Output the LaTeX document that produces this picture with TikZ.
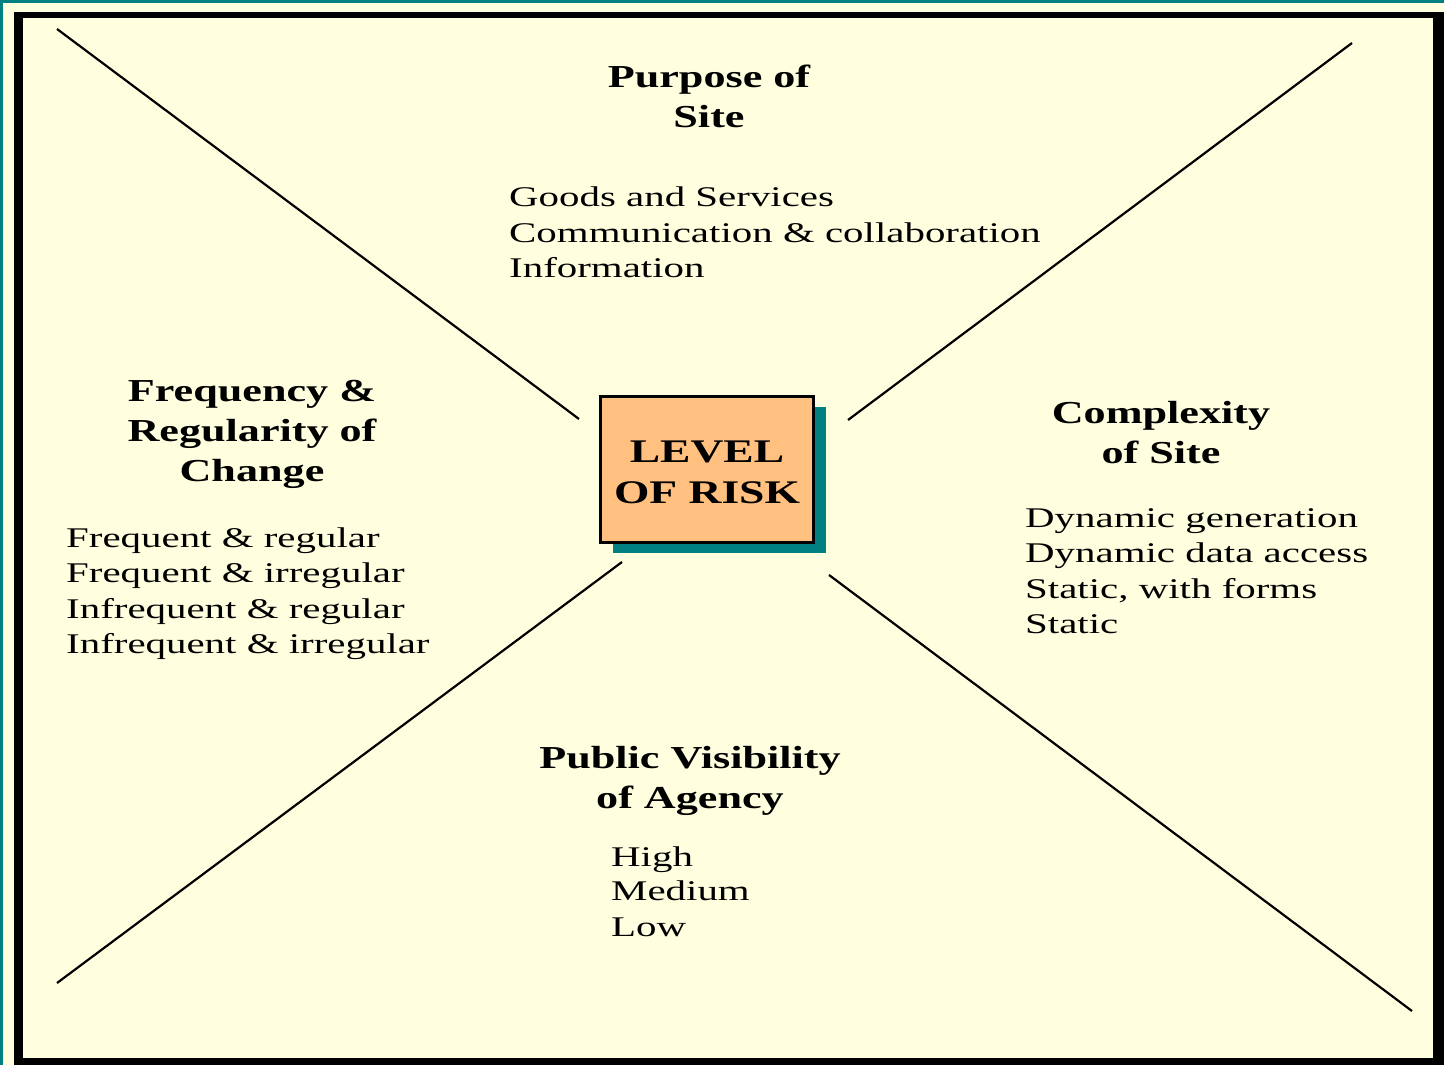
\documentclass[tikz,border=0pt]{standalone}
\usepackage{fontspec}
\setmainfont{Liberation Serif}
\newfontfamily\ttlfont[FakeStretch=1.38]{Liberation Serif}
\newfontfamily\bodyfont[FakeStretch=1.435]{Liberation Serif}
\usetikzlibrary{shadows}
\definecolor{bgyellow}{HTML}{FFFFE0}
\definecolor{tealc}{HTML}{008080}
\definecolor{boxorange}{HTML}{FFC080}
\tikzset{
  ttl/.style={anchor=base, inner sep=0pt, font=\ttlfont\bfseries\fontsize{32}{40}\selectfont},
  bodytxt/.style={anchor=base west, inner sep=0pt, font=\bodyfont\fontsize{28.5}{35}\selectfont},
  ray/.style={line width=2.2pt, black},
  risklabel/.style={align=center, inner sep=0pt, yshift=-3pt, font=\ttlfont\bfseries\fontsize{33}{41}\selectfont},
  riskbox/.style={draw=black, line width=3pt, fill=boxorange, minimum width=213pt, minimum height=146pt,
    inner sep=0pt,
    drop shadow={shadow xshift=12pt, shadow yshift=-10pt, fill=tealc, opacity=1}}
}
\begin{document}
\begin{tikzpicture}[x=1pt,y=-1pt]
\useasboundingbox (0,0) rectangle (1444,1065);
\fill[bgyellow] (0,0) rectangle (1444,1065);
\fill[tealc] (0,0) rectangle (1444,3);
\fill[tealc] (0,0) rectangle (3,1065);
\fill[black] (14,12) rectangle (1444,1065);
\fill[bgyellow] (23,18) rectangle (1433,1058);

% center box
\node[riskbox, label={[risklabel]center:LEVEL\\OF RISK}] (risk) at (707,469.5) {};

% rays
\coordinate (tl1) at (57,29);   \coordinate (tl2) at (579,419);
\coordinate (tr1) at (1352,43); \coordinate (tr2) at (848,420);
\coordinate (bl1) at (57,983);  \coordinate (bl2) at (622,562);
\coordinate (br1) at (1412,1011); \coordinate (br2) at (829,575);
\draw[ray] (tl1) -- (tl2);
\draw[ray] (tr1) -- (tr2);
\draw[ray] (bl1) -- (bl2);
\draw[ray] (br1) -- (br2);

% top
\node[ttl] (pt1) at (709,88) {Purpose of};
\node[ttl] (pt2) at (709,128) {Site};
\node[bodytxt] (pb1) at (509,206) {Goods and Services};
\node[bodytxt] (pb2) at (509,242) {Communication \& collaboration};
\node[bodytxt] (pb3) at (509,277) {Information};

% left
\node[ttl] (ft1) at (252,401) {Frequency \&};
\node[ttl] (ft2) at (252,441) {Regularity of};
\node[ttl] (ft3) at (252,481) {Change};
\node[bodytxt] (fb1) at (66,547) {Frequent \& regular};
\node[bodytxt] (fb2) at (66,582) {Frequent \& irregular};
\node[bodytxt] (fb3) at (66,618) {Infrequent \& regular};
\node[bodytxt] (fb4) at (66,653) {Infrequent \& irregular};

% right
\node[ttl] (ct1) at (1161,423) {Complexity};
\node[ttl] (ct2) at (1161,463) {of Site};
\node[bodytxt] (cb1) at (1025,527) {Dynamic generation};
\node[bodytxt] (cb2) at (1025,562) {Dynamic data access};
\node[bodytxt] (cb3) at (1025,598) {Static, with forms};
\node[bodytxt] (cb4) at (1025,633) {Static};

% bottom
\node[ttl] (vt1) at (690,768) {Public Visibility};
\node[ttl] (vt2) at (690,808) {of Agency};
\node[bodytxt] (vb1) at (611,866) {High};
\node[bodytxt] (vb2) at (611,900) {Medium};
\node[bodytxt] (vb3) at (611,936) {Low};
\end{tikzpicture}
\end{document}
